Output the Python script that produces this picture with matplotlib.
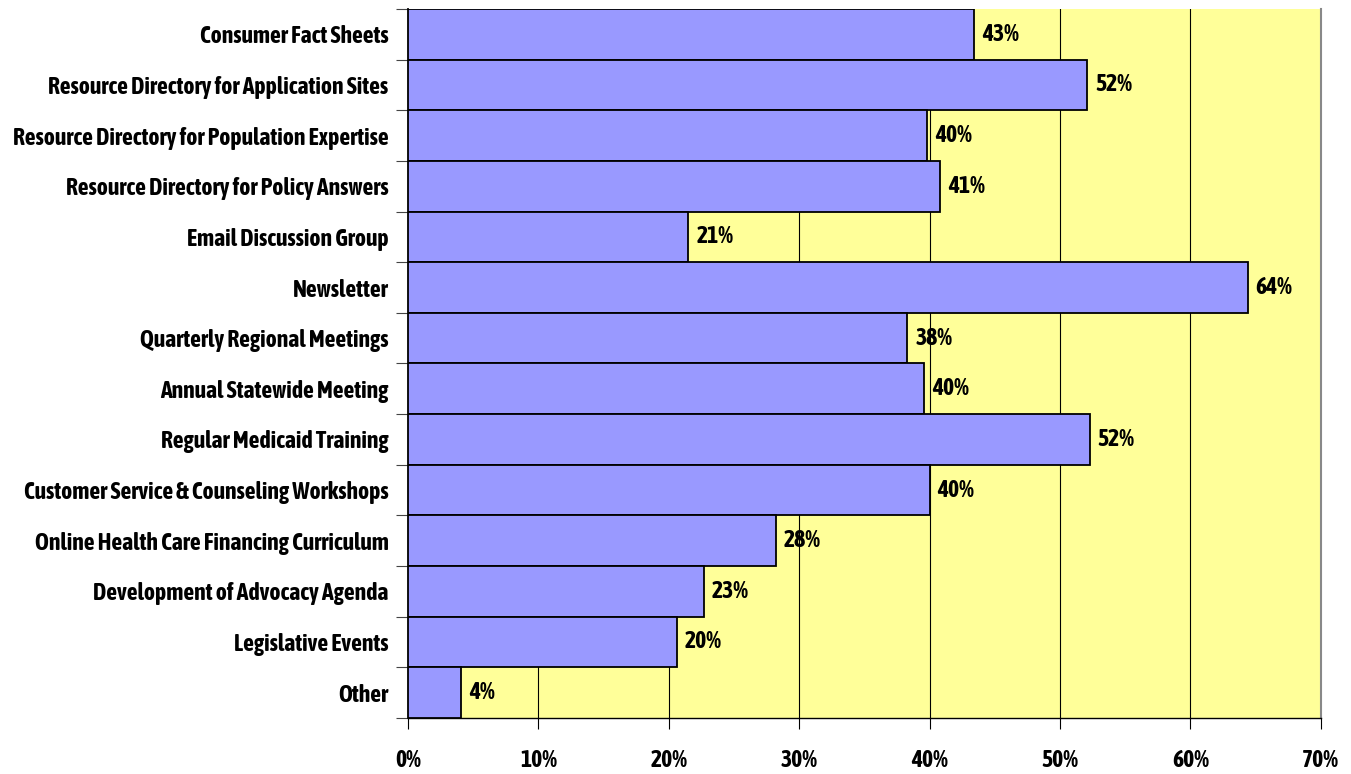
import numpy as np
import matplotlib
matplotlib.use("Agg")
import matplotlib.pyplot as plt
from matplotlib import font_manager

categories = [
    "Consumer Fact Sheets",
    "Resource Directory for Application Sites",
    "Resource Directory for Population Expertise",
    "Resource Directory for Policy Answers",
    "Email Discussion Group",
    "Newsletter",
    "Quarterly Regional Meetings",
    "Annual Statewide Meeting",
    "Regular Medicaid Training",
    "Customer Service & Counseling Workshops",
    "Online Health Care Financing Curriculum",
    "Development of Advocacy Agenda",
    "Legislative Events",
    "Other",
]
values = [43.4, 52.1, 39.8, 40.8, 21.5, 64.4, 38.3, 39.6, 52.3, 40.0, 28.2, 22.7, 20.6, 4.1]
value_labels = ["43%", "52%", "40%", "41%", "21%", "64%", "38%", "40%", "52%", "40%", "28%", "23%", "20%", "4%"]
x_ticks = [0, 10, 20, 30, 40, 50, 60, 70]

# condensed bold font if we have one, otherwise shrink the normal one
names = {f.name for f in font_manager.fontManager.ttflist}
fs = 12
fam = "DejaVu Sans"
for cand in ["Asap Condensed", "Barlow Semi Condensed", "Archivo Narrow", "Liberation Sans Narrow"]:
    if cand in names:
        fam = cand
        fs = 17
        break
plt.rcParams["font.family"] = [fam, "DejaVu Sans"]
plt.rcParams["font.weight"] = "bold"

fig = plt.figure(figsize=(13.51, 7.74), dpi=100)
ax = fig.add_axes([0.302, 0.0724, 0.6756, 0.916])
ax.set_facecolor("#FFFF99")

y = np.arange(len(categories))
ax.barh(y, values, height=1.0, color="#9999FF", edgecolor="black", linewidth=1.3, zorder=3)
for yi, v, lab in zip(y, values, value_labels):
    ax.text(v + 0.6, yi, lab, va="center", ha="left", fontsize=fs, fontweight="bold", zorder=4)

ax.set_xlim(0, 70)
ax.set_ylim(len(categories) - 0.5, -0.5)
ax.set_xticks(x_ticks)
ax.set_xticklabels([f"{t}%" for t in x_ticks], fontsize=fs, fontweight="bold")
ax.grid(axis="x", color="black", linewidth=0.8, zorder=1)

ax.set_yticks(y)
ax.set_yticklabels(categories, fontsize=fs, fontweight="bold")
ax.set_yticks(np.arange(len(categories) + 1) - 0.5, minor=True)
ax.tick_params(axis="y", which="major", length=0, pad=14)
ax.tick_params(axis="y", which="minor", length=9, width=0.8, color="#444444")
ax.tick_params(axis="x", length=8, width=0.8, pad=14)

ax.spines["left"].set_linewidth(1.3)
ax.spines["bottom"].set_linewidth(1.0)
ax.spines["right"].set_color("#888888")
ax.spines["right"].set_linewidth(1.5)
ax.spines["top"].set_visible(False)

fig.savefig("out.png", dpi=100)
